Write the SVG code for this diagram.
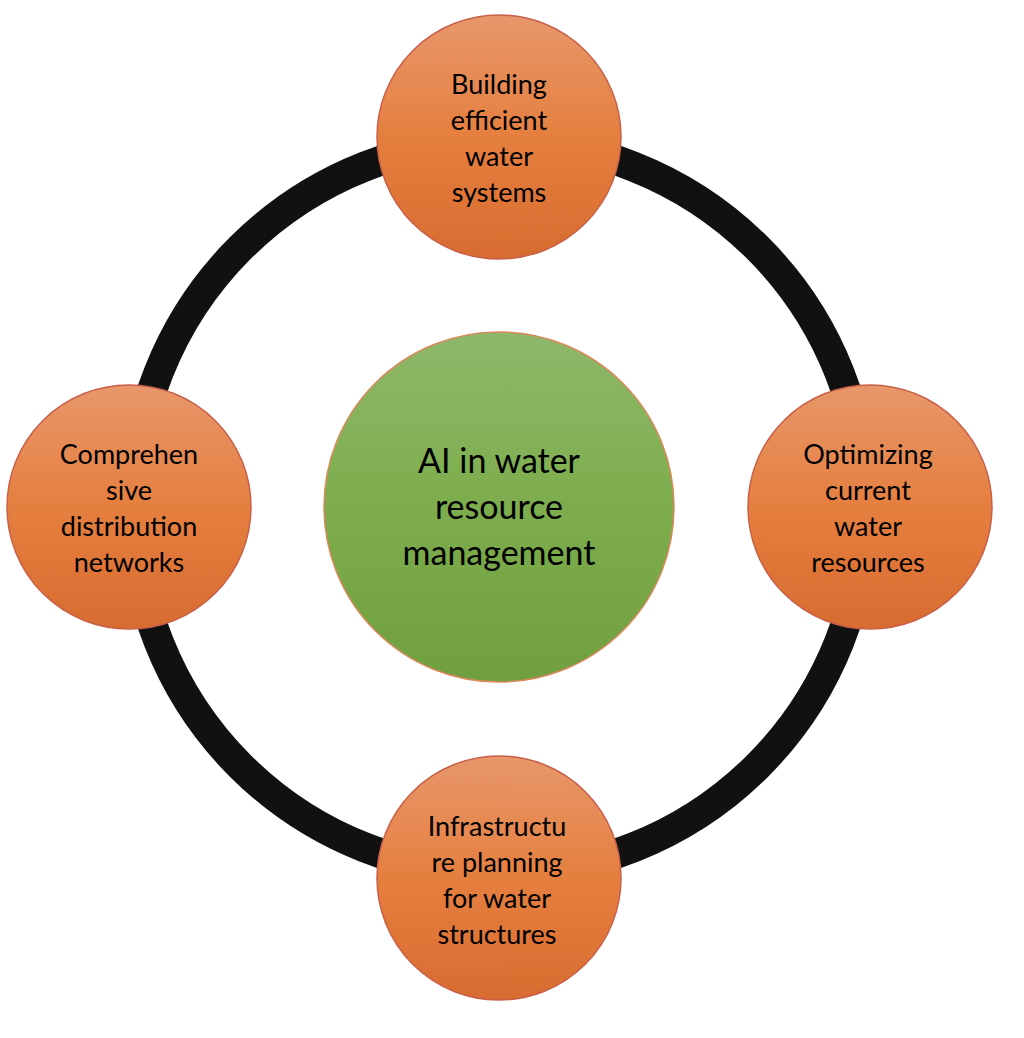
<svg xmlns="http://www.w3.org/2000/svg" width="1024" height="1038" viewBox="0 0 1024 1038">
<defs>
<linearGradient id="og" x1="0" y1="0" x2="0" y2="1"><stop offset="0" stop-color="#E8976B"/><stop offset="0.5" stop-color="#E57F3F"/><stop offset="1" stop-color="#D86C30"/></linearGradient>
<linearGradient id="gg" x1="0" y1="0" x2="0" y2="1"><stop offset="0" stop-color="#8EB86A"/><stop offset="0.5" stop-color="#7DAD4D"/><stop offset="1" stop-color="#6F9F3F"/></linearGradient>
<style>
.o{fill:url(#og);stroke:#C8604A;stroke-width:1.5}
.t{font-family:Lato,"Open Sans",sans-serif;font-size:27px;fill:#000;text-anchor:middle}
.c{font-family:Lato,"Open Sans",sans-serif;font-size:34px;fill:#000;text-anchor:middle}
</style>
</defs>
<rect width="1024" height="1038" fill="#fff"/>
<g id="connectors"><circle cx="499" cy="507" r="366" fill="none" stroke="#111" stroke-width="30"/></g>
<g id="center"><circle cx="499" cy="507" r="175" fill="url(#gg)" stroke="#D9895A" stroke-width="1.5"/>
<text class="c" x="499" y="473">AI in water</text><text class="c" x="499" y="519">resource</text><text class="c" x="499" y="565">management</text></g>
<g id="top"><circle class="o" cx="499" cy="137" r="122"/>
<text class="t" x="499" y="94">Building</text><text class="t" x="499" y="130">efficient</text><text class="t" x="499" y="166">water</text><text class="t" x="499" y="202">systems</text></g>
<g id="left"><circle class="o" cx="129" cy="507" r="122"/>
<text class="t" x="129" y="464">Comprehen</text><text class="t" x="129" y="500">sive</text><text class="t" x="129" y="536">distribution</text><text class="t" x="129" y="572">networks</text></g>
<g id="right"><circle class="o" cx="870" cy="507" r="122"/>
<text class="t" x="868" y="464">Optimizing</text><text class="t" x="868" y="500">current</text><text class="t" x="868" y="536">water</text><text class="t" x="868" y="572">resources</text></g>
<g id="bottom"><circle class="o" cx="499" cy="878" r="122"/>
<text class="t" x="497" y="836">Infrastructu</text><text class="t" x="497" y="872">re planning</text><text class="t" x="497" y="908">for water</text><text class="t" x="497" y="944">structures</text></g>
</svg>
